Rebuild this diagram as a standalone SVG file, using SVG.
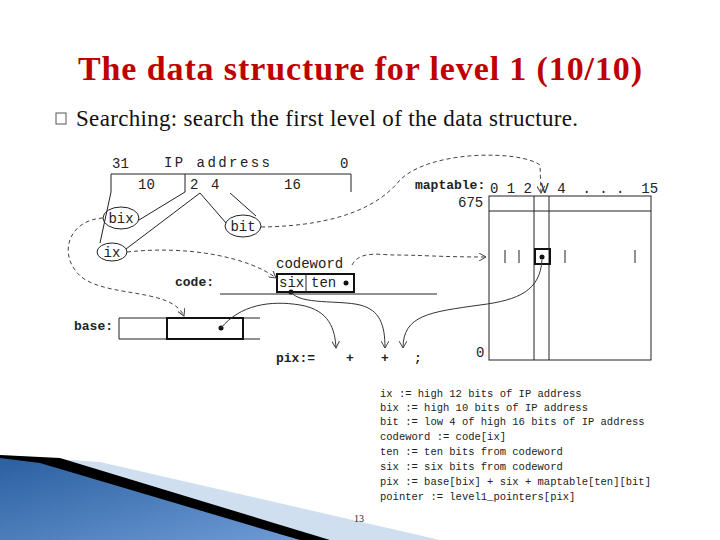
<svg xmlns="http://www.w3.org/2000/svg" width="720" height="540" viewBox="0 0 720 540">
<defs>
<style>
.m{font-family:"Liberation Mono",monospace;font-size:14px;fill:#222}
.mb{font-family:"Liberation Mono",monospace;font-size:13px;font-weight:bold;fill:#222}
.s{font-family:"Liberation Mono",monospace;font-size:10.5px;fill:#222}
.n{fill:none;stroke:#222;stroke-width:1}
.th{fill:none;stroke:#111;stroke-width:2}
.d{fill:none;stroke:#444;stroke-width:1;stroke-dasharray:4,3}
.c{fill:none;stroke:#333;stroke-width:1}
</style>
<linearGradient id="g" x1="0" y1="0" x2="1" y2="1"><stop offset="0" stop-color="#2a5fa0"/><stop offset="1" stop-color="#6e9bd6"/></linearGradient>
<marker id="a" markerWidth="8" markerHeight="8" refX="7" refY="4" orient="auto"><path d="M0,0 L7,4 L0,8" fill="none" stroke="#444"/></marker>
</defs>
<rect width="720" height="540" fill="#fff"/>
<polygon points="0,455 100,462 440,540 0,540" fill="#cfdff0"/>
<polygon points="0,455 60,458 330,540 0,540" fill="#000"/>
<polygon points="0,458 40,463 300,540 0,540" fill="url(#g)"/>
<text x="360" y="80" text-anchor="middle" font-family="Liberation Serif,serif" font-size="34" font-weight="bold" fill="#c00000" textLength="564">The data structure for level 1 (10/10)</text>
<rect x="56" y="113" width="10" height="11" fill="none" stroke="#555"/>
<text x="76" y="126" font-family="Liberation Serif,serif" font-size="23" fill="#111" textLength="502">Searching: search the first level of the data structure.</text>
<g id="ip">
<text x="112" y="168" class="m" font-size="12">31</text>
<text x="164" y="167" class="m" font-size="17" textLength="106">IP address</text>
<text x="340" y="168" class="m" font-size="12">0</text>
<path d="M111,192 V174 H351 V192 M185,174 V192" class="n"/>
<text x="138" y="189" class="m" font-size="12" fill="#777">10</text>
<text x="190" y="189" class="m" font-size="12">2</text>
<text x="211" y="189" class="m" font-size="12" fill="#777">4</text>
<text x="284" y="189" class="m" font-size="12">16</text>
</g>
<g id="bix"><ellipse cx="121" cy="218" rx="18" ry="11" class="n" stroke-width="1.5"/><text x="121" y="223" text-anchor="middle" class="m">bix</text></g>
<g id="bit"><ellipse cx="243" cy="226" rx="18" ry="11" class="n" stroke-width="1.5"/><text x="243" y="231" text-anchor="middle" class="m">bit</text></g>
<g id="ix"><ellipse cx="112" cy="252" rx="15" ry="9" class="n" stroke-width="1.5"/><text x="112" y="257" text-anchor="middle" class="m">ix</text></g>
<g id="code">
<text x="276" y="268" class="m">codeword</text>
<text x="175" y="286" class="mb">code:</text>
<rect x="277" y="274" width="77" height="18" class="th"/>
<line x1="306" y1="274" x2="306" y2="292" class="n"/>
<text x="279" y="287" class="m">six</text>
<text x="311" y="287" class="m">ten</text>
<circle cx="346" cy="283" r="2.5" fill="#111"/>
<circle cx="291" cy="292" r="2.5" fill="#111"/>
<line x1="220" y1="294" x2="437" y2="294" class="n"/>
</g>
<g id="base">
<text x="74" y="330" class="mb">base:</text>
<path d="M260,318 H119 V339 H260" class="n"/>
<rect x="167" y="318" width="76" height="21" class="th"/>
<circle cx="221" cy="328" r="2.5" fill="#111"/>
</g>
<g id="pix">
<text x="276" y="362" class="mb">pix:=</text>
<text x="346" y="362" class="mb">+</text>
<text x="381" y="362" class="mb">+</text>
<text x="414" y="362" class="mb">;</text>
</g>
<g id="maptable">
<text x="415" y="189" class="mb">maptable:</text>
<text x="490" y="193" class="m" font-size="11" fill="#555" xml:space="preserve">0 1 2 V 4  . . .  15</text>
<text x="458" y="207" class="m" font-size="11" fill="#555">675</text>
<text x="476" y="357" class="m" font-size="11" fill="#555">0</text>
<rect x="489" y="196" width="162" height="164" class="n"/>
<line x1="489" y1="211" x2="651" y2="211" class="n"/>
<path d="M534,196 V360 M549,196 V360" class="n"/>
<path d="M505,250 V263 M519,250 V263 M565,250 V263 M635,250 V263" class="n"/>
<rect x="535" y="249" width="15" height="15" class="th"/>
<circle cx="542" cy="257" r="2.5" fill="#111"/>
</g>
<g id="connectors">
<path d="M111,192 L100,243 M185,192 L139,220 M200,193 L126,249 M200,193 L226,223 M230,193 L256,216" class="n"/>
<path d="M261,227 C340,226 380,205 400,180 C430,150 520,150 540,165 L541,193" class="d" marker-end="url(#a)"/>
<path d="M127,252 C190,245 250,258 276,278" class="d" marker-end="url(#a)"/>
<path d="M103,218 C70,220 60,250 75,270 C95,300 170,285 184,316" class="d" marker-end="url(#a)"/>
<path d="M352,265 C360,250 380,255 395,255 C420,255 440,257 486,257" class="d" marker-end="url(#a)"/>
<path d="M291,292 C300,305 340,300 360,305 C380,310 385,325 385,348" class="c" marker-end="url(#a)"/>
<path d="M221,328 C240,305 270,300 300,305 C330,310 335,330 336,348" class="c" marker-end="url(#a)"/>
<path d="M542,260 C540,290 520,300 480,305 C430,312 403,315 403,348" class="c" marker-end="url(#a)"/>
</g>
<g id="defs-text" xml:space="preserve">
<text x="380" y="397" class="s">ix  := high 12 bits of IP address</text>
<text x="380" y="411" class="s">bix := high 10 bits of IP address</text>
<text x="380" y="425" class="s">bit := low 4 of high 16 bits of IP address</text>
<text x="380" y="440" class="s">codeword := code[ix]</text>
<text x="380" y="455" class="s">ten := ten bits from codeword</text>
<text x="380" y="470" class="s">six := six bits from codeword</text>
<text x="380" y="485" class="s">pix := base[bix] + six + maptable[ten][bit]</text>
<text x="380" y="500" class="s">pointer := level1_pointers[pix]</text>
<text x="354" y="522" font-family="Liberation Serif,serif" font-size="10" fill="#222">13</text>
</g>
</svg>
